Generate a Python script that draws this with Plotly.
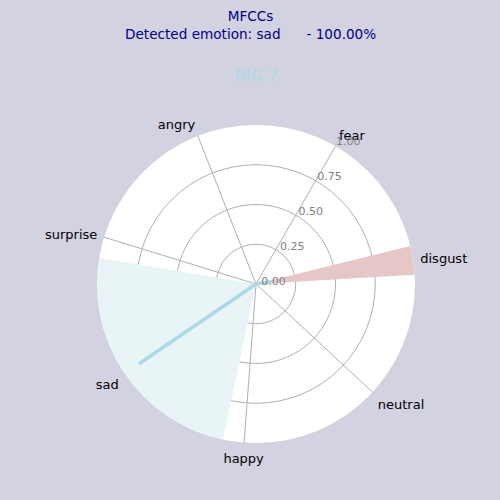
import plotly.graph_objects as go

categories = ["angry", "fear", "disgust", "neutral", "happy", "sad", "surprise"]
line_values = [0.0, 0.0, 0.10, 0.0, 0.0, 0.89, 0.0]
bar_values = [0.0, 0.0, 1.0, 0.0, 0.0, 1.0, 0.0]
bar_widths = [0.0, 0.0, 0.205, 0.0, 0.0, 1.70, 0.0]
bar_colors = ["#ffffff", "#ffffff", "#e6c7c8", "#ffffff", "#ffffff", "#e8f4f6", "#ffffff"]
radial_ticks = [0, 0.25, 0.5, 0.75, 1.0]
radial_ticktext = ["0.00", "0.25", "0.50", "0.75", "1.00"]

title_text = "MFCCs<br>Detected emotion: sad\u00a0\u00a0\u00a0\u00a0\u00a0 - 100.00%"
subtitle_text = "BIG 7"

fig = go.Figure()
fig.add_trace(go.Barpolar(
    r=bar_values, theta=categories, width=bar_widths,
    marker=dict(color=bar_colors, line=dict(width=0)),
    showlegend=False, hoverinfo="skip",
))
fig.add_trace(go.Scatterpolar(
    r=line_values + line_values[:1], theta=categories + categories[:1],
    mode="lines", line=dict(color="#add8e6", width=3.5),
    showlegend=False,
))

fig.update_layout(
    width=500, height=500,
    margin=dict(l=0, r=0, t=0, b=0),
    paper_bgcolor="#d3d2e0",
    font=dict(family="DejaVu Sans", color="black"),
    polar=dict(
        domain=dict(x=[0.194, 0.830], y=[0.114, 0.750]),
        bgcolor="white",
        bargap=0,
        angularaxis=dict(
            type="category", categoryarray=categories,
            rotation=111.43, direction="clockwise",
            showline=False, gridcolor="#b0b0b0", gridwidth=1,
            ticks="outside", ticklen=4, tickcolor="rgba(0,0,0,0)",
            tickfont=dict(size=13, color="black", family="DejaVu Sans"),
        ),
        radialaxis=dict(
            range=[0, 1], angle=62, tickangle=62, showline=False,
            tickvals=radial_ticks,
            ticktext=[t + "<br>\u00a0" for t in radial_ticktext],
            tickfont=dict(size=11, color="#808080", family="DejaVu Sans"),
            gridcolor="#b0b0b0", gridwidth=1, ticks="", ticklen=0,
        ),
    ),
    annotations=[
        dict(text=title_text, x=0.5, y=0.951, xref="paper", yref="paper",
             xanchor="center", yanchor="middle", showarrow=False,
             font=dict(size=13.6, color="#00008b", family="DejaVu Sans")),
        dict(text=subtitle_text, x=0.512, y=0.872, xref="paper", yref="paper",
             showarrow=False, font=dict(size=16, color="#add8e6", family="DejaVu Sans")),
    ],
)

fig.write_html("out.html")
